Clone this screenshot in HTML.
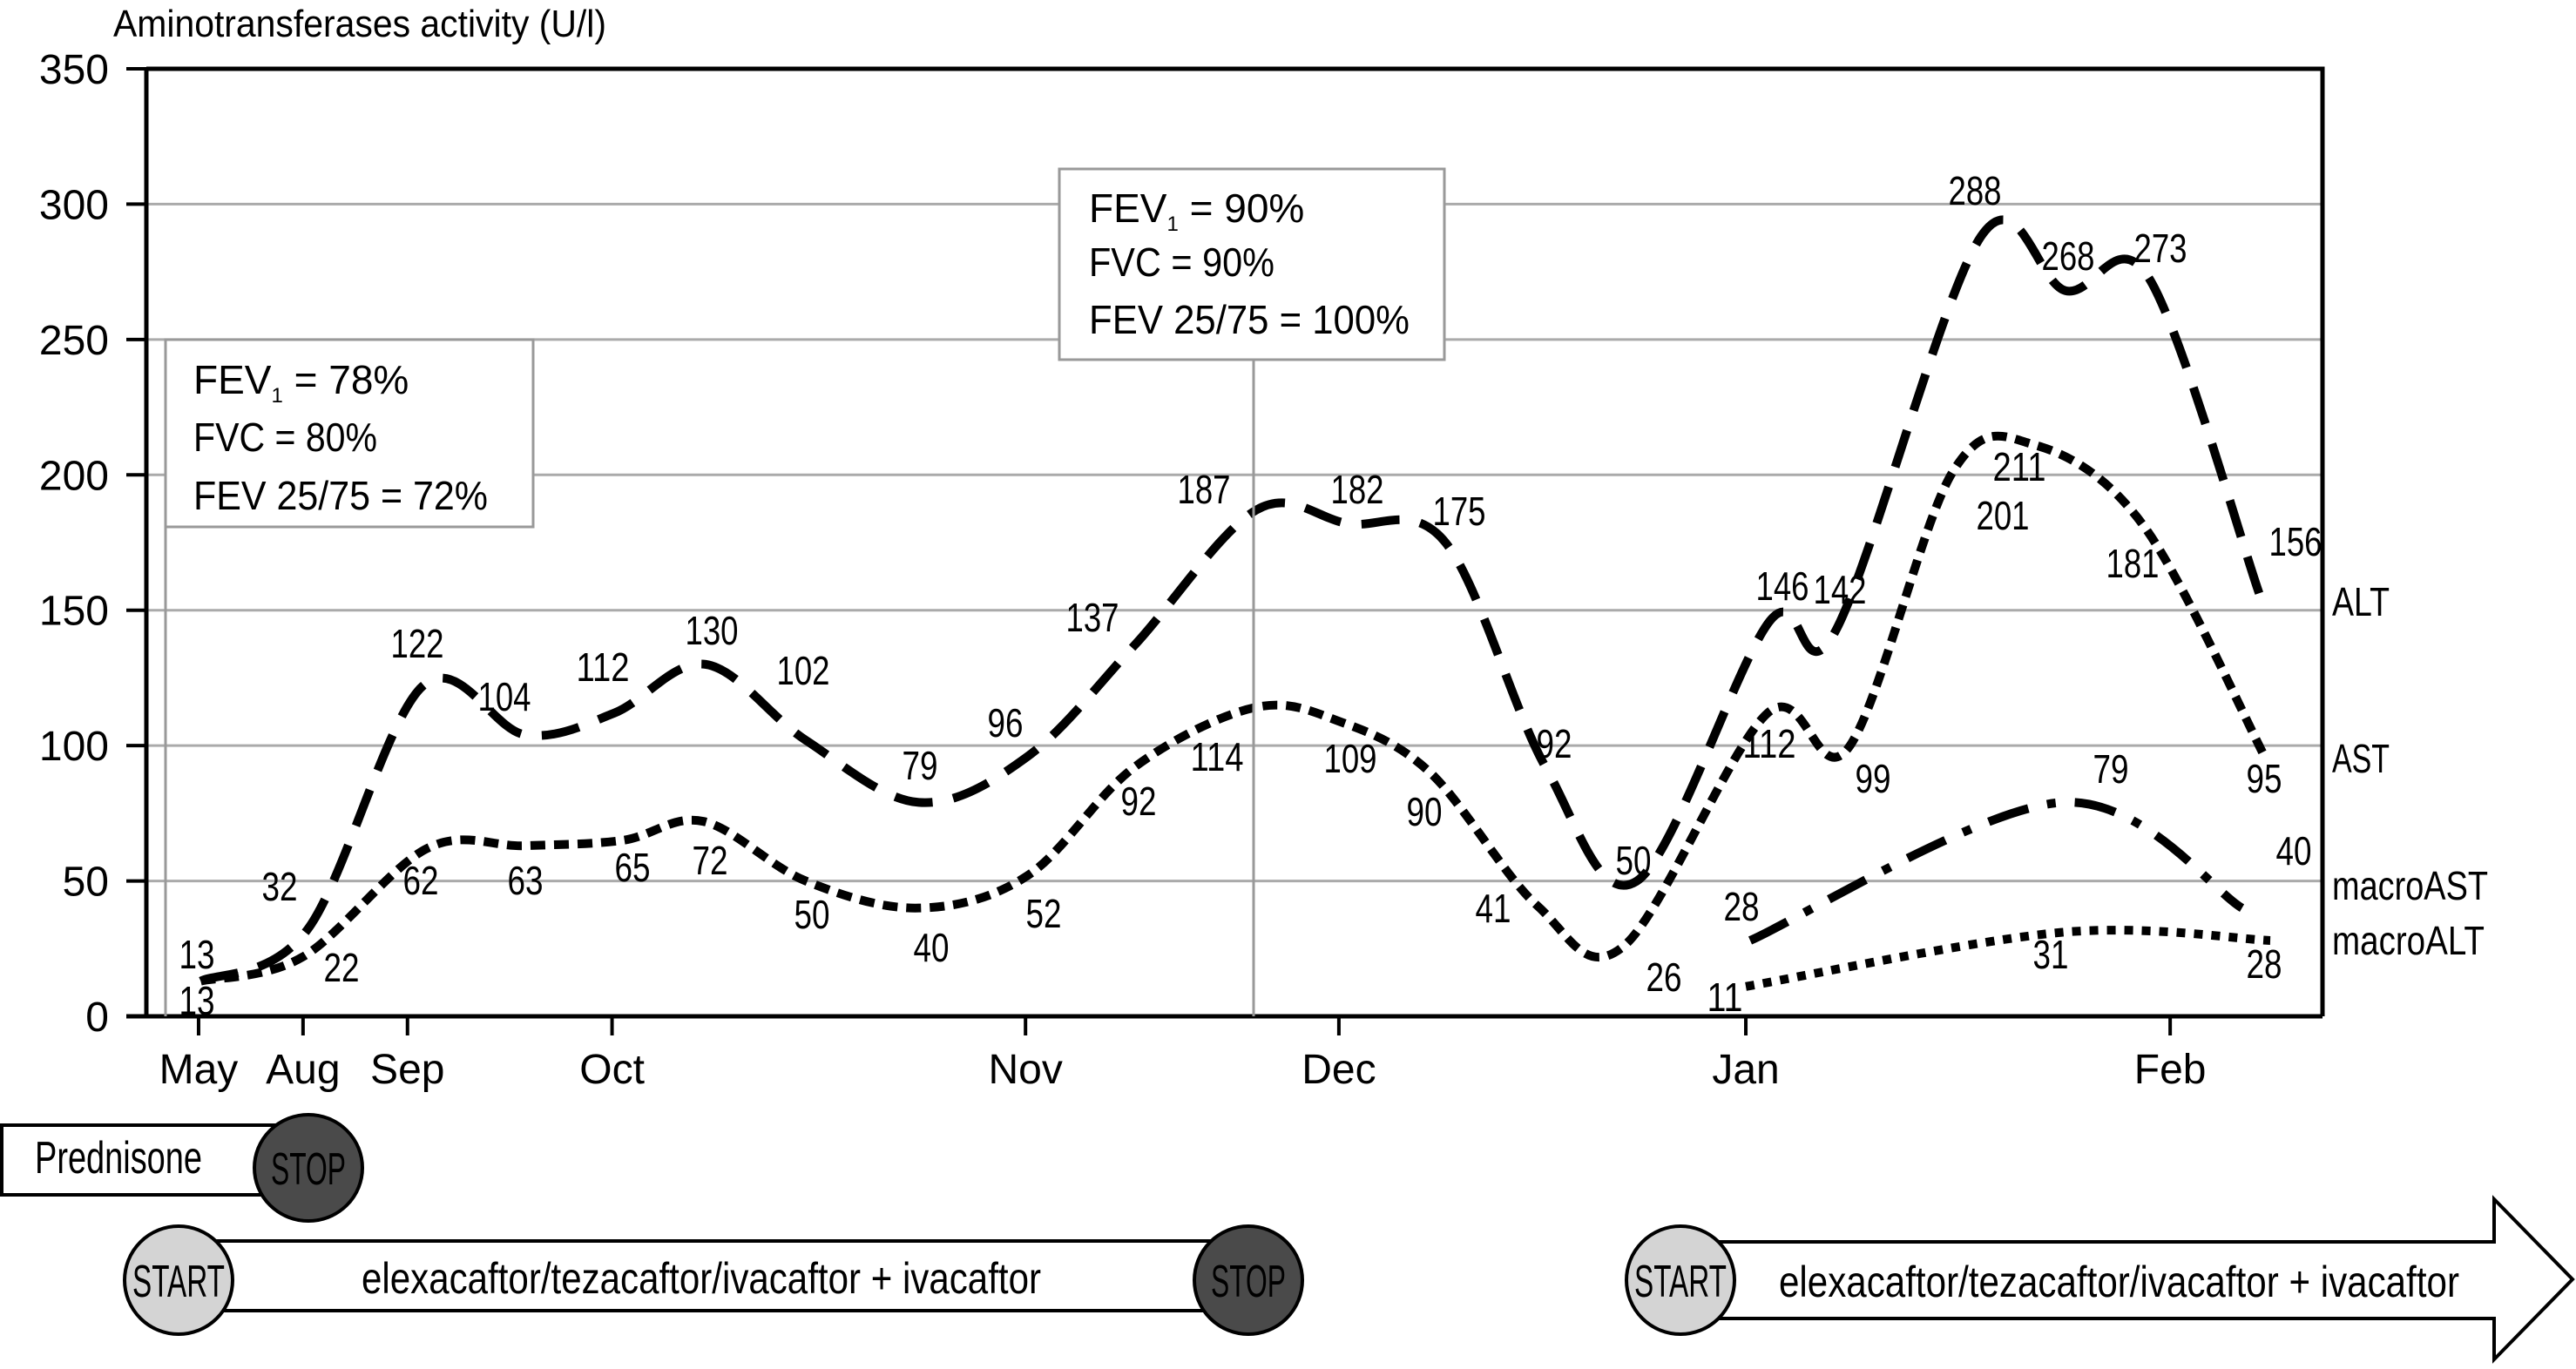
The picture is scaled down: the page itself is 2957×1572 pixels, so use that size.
<!DOCTYPE html>
<html><head><meta charset="utf-8"><style>
html,body{margin:0;padding:0;background:#fff}
svg{display:block}
text{font-family:"Liberation Sans Narrow","Liberation Sans",sans-serif;fill:#000}
</style></head><body>
<svg id="chart" width="2957" height="1572" viewBox="0 0 2957 1572" xmlns="http://www.w3.org/2000/svg">
<g id="grid"></g>
<g id="axes"></g>
<g id="series"></g>
<g id="labels"></g>
<text x="130" y="42" font-size="44" textLength="566" lengthAdjust="spacingAndGlyphs">Aminotransferases activity (U/l)</text>
<g>
<line x1="190" y1="605" x2="190" y2="1167" stroke="#999" stroke-width="3"/>
<rect x="190" y="390" width="422" height="215" fill="#fff" stroke="#999" stroke-width="3"/>
<text x="222" y="452" font-size="46">FEV<tspan font-size="24" dy="10">1</tspan><tspan dy="-10"> = 78%</tspan></text>
<text x="222" y="518" font-size="46" textLength="211" lengthAdjust="spacingAndGlyphs">FVC = 80%</text>
<text x="222" y="585" font-size="46" textLength="338" lengthAdjust="spacingAndGlyphs">FEV 25/75 = 72%</text>
</g>
<g>
<line x1="1439" y1="413" x2="1439" y2="1167" stroke="#999" stroke-width="3"/>
<rect x="1216" y="194" width="442" height="219" fill="#fff" stroke="#999" stroke-width="3"/>
<text x="1250" y="255" font-size="46">FEV<tspan font-size="24" dy="10">1</tspan><tspan dy="-10"> = 90%</tspan></text>
<text x="1250" y="317" font-size="46" textLength="213" lengthAdjust="spacingAndGlyphs">FVC = 90%</text>
<text x="1250" y="383" font-size="46" textLength="368" lengthAdjust="spacingAndGlyphs">FEV 25/75 = 100%</text>
</g>
<g>
<text x="2677" y="707" font-size="46" textLength="66" lengthAdjust="spacingAndGlyphs">ALT</text>
<text x="2677" y="887" font-size="46" textLength="66" lengthAdjust="spacingAndGlyphs">AST</text>
<text x="2677" y="1033" font-size="46" textLength="179" lengthAdjust="spacingAndGlyphs">macroAST</text>
<text x="2677" y="1096" font-size="46" textLength="175" lengthAdjust="spacingAndGlyphs">macroALT</text>
</g>
<g>
<rect x="2" y="1292" width="320" height="80" fill="#fff" stroke="#000" stroke-width="4"/>
<text x="40" y="1347" font-size="52" textLength="192" lengthAdjust="spacingAndGlyphs">Prednisone</text>
<ellipse cx="354" cy="1341" rx="62" ry="61" fill="#4a4a4a" stroke="#000" stroke-width="4"/>
<text x="354" y="1360" font-size="52" text-anchor="middle" textLength="86" lengthAdjust="spacingAndGlyphs">STOP</text>
</g>
<g>
<rect x="204" y="1425" width="1229" height="80" fill="#fff" stroke="#000" stroke-width="4"/>
<ellipse cx="205" cy="1470" rx="62" ry="62" fill="#d4d4d4" stroke="#000" stroke-width="4"/>
<text x="205" y="1489" font-size="52" text-anchor="middle" textLength="106" lengthAdjust="spacingAndGlyphs">START</text>
<text x="415" y="1485" font-size="50" textLength="780" lengthAdjust="spacingAndGlyphs">elexacaftor/tezacaftor/ivacaftor + ivacaftor</text>
<ellipse cx="1433" cy="1470" rx="62" ry="62" fill="#4a4a4a" stroke="#000" stroke-width="4"/>
<text x="1433" y="1489" font-size="52" text-anchor="middle" textLength="86" lengthAdjust="spacingAndGlyphs">STOP</text>
</g>
<g>
<polygon points="1929,1426 2863,1426 2863,1377 2953,1469 2863,1561 2863,1514 1929,1514" fill="#fff" stroke="#000" stroke-width="4"/>
<ellipse cx="1929" cy="1470" rx="62" ry="62" fill="#d4d4d4" stroke="#000" stroke-width="4"/>
<text x="1929" y="1489" font-size="52" text-anchor="middle" textLength="106" lengthAdjust="spacingAndGlyphs">START</text>
<text x="2042" y="1489" font-size="50" textLength="781" lengthAdjust="spacingAndGlyphs">elexacaftor/tezacaftor/ivacaftor + ivacaftor</text>
</g>
</svg>
<script>
const yTicks=[0,50,100,150,200,250,300,350];
const monthNames=["May","Aug","Sep","Oct","Nov","Dec","Jan","Feb"];
const monthPos=[2.4,7.2,12.0,21.4,40.4,54.8,73.5,93.0];
const altX=[2.5,7.4,12.7,17.4,21.5,25.7,30.3,35.5,40.5,45.4,51.0,55.2,59.7,64.3,68.5,74.6,77.6,84.3,88.2,92.0,97.1];
const altY=[13,32,122,104,112,130,102,79,96,137,187,182,175,92,50,146,142,288,268,273,156];
const astX=[2.5,7.2,12.9,17.4,21.9,25.6,30.3,35.5,40.5,45.4,50.9,54.8,59.0,63.9,67.9,74.5,78.2,83.0,86.8,91.8,97.4];
const astY=[13,22,62,63,65,72,50,40,52,92,114,109,90,41,26,112,99,201,211,181,95];
const mastX=[73.7,88.0,96.3];
const mastY=[28,79,40];
const maltX=[73.5,88.0,97.6];
const maltY=[11,31,28];
// label layout (pixel centers), separate from data
const altLab=[[226,1096],[321,1018],[479,739],[579,800],[692,766],[817,724],[922,770],[1056,879],[1154,830],[1254,709],[1382,562],[1558,562],[1675,587],[1784,854],[1875,988],[2046,673],[2112,677],[2267,219],[2374,294],[2480,285],[2635,622]];
const astLab=[[226,1149],[392,1111],[483,1011],[603,1011],[726,996],[815,988],[932,1050],[1069,1088],[1198,1049],[1307,920],[1397,869],[1550,871],[1635,932],[1714,1043],[1910,1122],[2031,854],[2150,894],[2299,592],[2318,536],[2448,647],[2599,894]];
const mastLab=[[1999,1041],[2423,883],[2633,977]];
const maltLab=[[1980,1145],[2354,1096],[2599,1107]];

const X0=168,X1=2666,Y0=1167,Y350=79;
const xs=u=>X0+(X1-X0)*u/100;
const ys=v=>Y0-(Y0-Y350)*v/350;
const NS="http://www.w3.org/2000/svg";
function mk(tag,attrs,parent){const e=document.createElementNS(NS,tag);for(const k in attrs)e.setAttribute(k,attrs[k]);parent.appendChild(e);return e;}
const grid=document.getElementById('grid'),axes=document.getElementById('axes'),ser=document.getElementById('series'),lab=document.getElementById('labels');
yTicks.forEach(t=>{
  if(t>0&&t<350){const g=mk('line',{x1:X0,x2:X1,y1:ys(t),y2:ys(t),stroke:'#aaa','stroke-width':3},grid);
  
  }
  const tk=mk('line',{x1:145,x2:X0,y1:ys(t),y2:ys(t),stroke:'#000','stroke-width':4},axes);
  
  
  const tl=mk('text',{x:125,y:ys(t)+17,'font-size':48,'text-anchor':'end'},axes);
  
  
  tl.textContent=t;
});
const frame=mk('path',{d:`M${X0},${ys(350)} L${X1},${ys(350)} L${X1},${Y0} M${X0},${ys(350)} L${X0},${Y0}`,fill:'none',stroke:'#000','stroke-width':5},axes);


const xa=mk('line',{x1:145,x2:X1,y1:Y0,y2:Y0,stroke:'#000','stroke-width':5},axes);


monthNames.forEach((m,i)=>{
  const x=xs(monthPos[i]);
  const t=mk('line',{x1:x,x2:x,y1:Y0,y2:Y0+22,stroke:'#000','stroke-width':4},axes);
  
  
  const l=mk('text',{x:x,y:1244,'font-size':48,'text-anchor':'middle'},axes);
  
  
  l.textContent=m;
});
function spline(X,Y){
  const p=X.map((u,i)=>[xs(u),ys(Y[i])]);
  let d=`M${p[0][0]},${p[0][1]}`;
  for(let i=0;i<p.length-1;i++){
    const p0=p[i-1]||p[i],p1=p[i],p2=p[i+1],p3=p[i+2]||p[i+1];
    const c1=[p1[0]+(p2[0]-p0[0])/6,p1[1]+(p2[1]-p0[1])/6];
    const c2=[p2[0]-(p3[0]-p1[0])/6,p2[1]-(p3[1]-p1[1])/6];
    d+=` C${c1[0]},${c1[1]} ${c2[0]},${c2[1]} ${p2[0]},${p2[1]}`;
  }
  return d;
}
function drawLine(X,Y,dash,name){
  const e=mk('path',{d:spline(X,Y),fill:'none',stroke:'#000','stroke-width':10,'stroke-dasharray':dash},ser);
  
  
}
drawLine(altX,altY,'44 24','alt-line');
drawLine(astX,astY,'17 10','ast-line');
drawLine(mastX,mastY,'48 22 10 22','macroast-line');
drawLine(maltX,maltY,'10 10','macroalt-line');
function drawLabels(vals,pos,name){
  vals.forEach((v,i)=>{
    const s=String(v);
    const t=mk('text',{x:pos[i][0],y:pos[i][1]+16,'font-size':46,'text-anchor':'middle',textLength:s.length===3?61:41,lengthAdjust:'spacingAndGlyphs'},lab);
    
    
    t.textContent=s;
  });
}
drawLabels(altY,altLab,'alt');
drawLabels(astY,astLab,'ast');
drawLabels(mastY,mastLab,'macroast');
drawLabels(maltY,maltLab,'macroalt');
</script>
</body></html>
